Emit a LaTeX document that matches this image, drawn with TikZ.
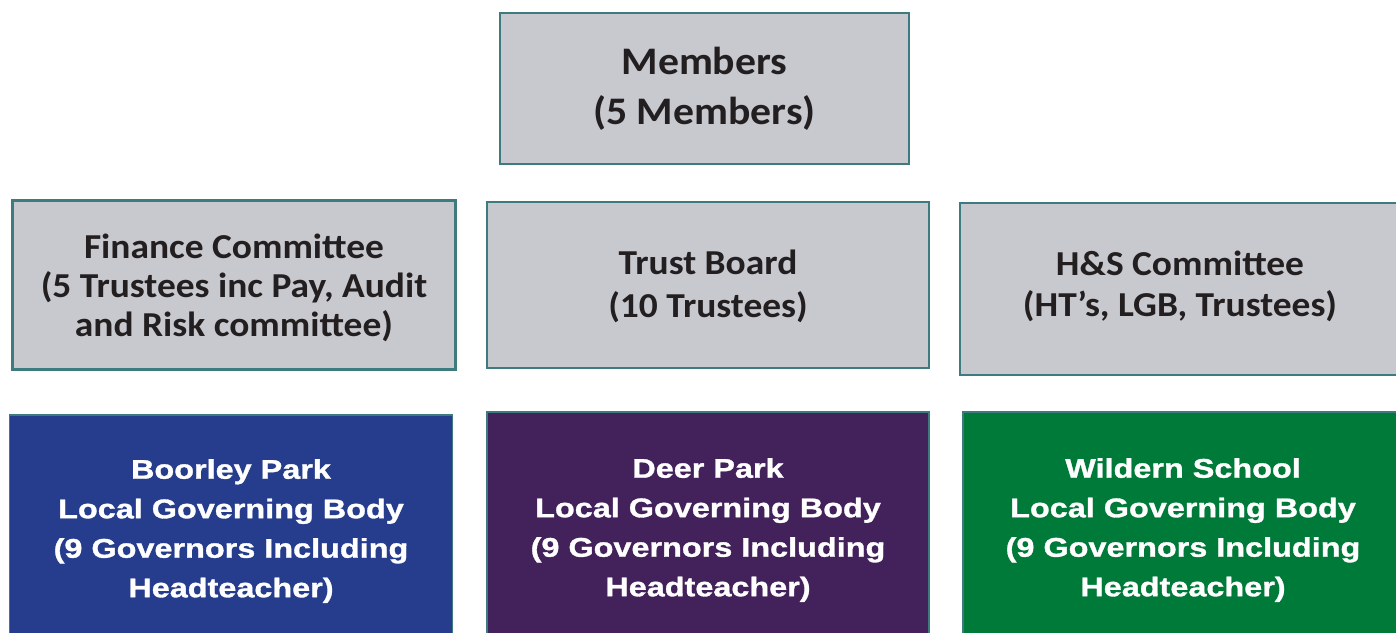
\documentclass[tikz,border=0pt]{standalone}
\usepackage{fontspec}
\setmainfont{Carlito}[FakeStretch=1.07]
\newfontfamily\arialfont{Liberation Sans}[FakeStretch=1.2, BoldFeatures={FakeBold=1.2}]
\definecolor{boxgray}{HTML}{C8C9CE}
\definecolor{edgeteal}{HTML}{3E7B7E}
\definecolor{lgbblue}{HTML}{253D8C}
\definecolor{lgbpurple}{HTML}{43215B}
\definecolor{lgbgreen}{HTML}{007A38}
\definecolor{txtdark}{HTML}{231F20}
\tikzset{
  graybox/.style={draw=edgeteal, line width=2.5pt, fill=boxgray, inner sep=0pt},
  graytext/.style={text=txtdark, align=center, inner sep=0pt,
    font=\bfseries\fontsize{35}{39}\selectfont},
  lgbbox/.style={draw=edgeteal, line width=1.5pt, text=white, align=center,
    inner sep=0pt, font=\arialfont\bfseries\fontsize{27}{39.5}\selectfont}
}
\begin{document}
\begin{tikzpicture}[x=1pt,y=-1pt]
\useasboundingbox (0,0) rectangle (1396,632);
\clip (0,0) rectangle (1396,632);
\fill[white] (0,0) rectangle (1396,632);
% top row
\node[graybox, minimum width=409pt, minimum height=151pt] (members) at (704.5,88.5) {};
\node[graytext, font=\bfseries\fontsize{39}{50}\selectfont] (members-t) at (704.5,89) {Members\\(5 Members)};
% middle row
\node[graybox, minimum width=443pt, minimum height=169pt] (finance) at (234,285) {};
\node[graytext] (finance-t) at (234,287.5) {Finance Committee\\(5 Trustees inc Pay, Audit\\and Risk committee)};
\node[graybox, minimum width=442pt, minimum height=166pt] (trust) at (708,285) {};
\node[graytext, font=\bfseries\fontsize{35}{43}\selectfont] (trust-t) at (708,286.7) {Trust Board\\(10 Trustees)};
\node[graybox, minimum width=440pt, minimum height=172pt] (hs) at (1180,289) {};
\node[graytext, font=\bfseries\fontsize{35}{41}\selectfont] (hs-t) at (1180,286) {H\&S Committee\\(HT’s, LGB, Trustees)};
% bottom row
\node[lgbbox, fill=lgbblue, minimum width=443pt, minimum height=232pt] (boorley) at (231,531) {Boorley Park\\Local Governing Body\\(9 Governors Including\\Headteacher)};
\node[lgbbox, fill=lgbpurple, minimum width=442pt, minimum height=236pt] (deer) at (708,530) {Deer Park\\Local Governing Body\\(9 Governors Including\\Headteacher)};
\node[lgbbox, fill=lgbgreen, minimum width=440pt, minimum height=236pt] (wildern) at (1183,530) {Wildern School\\Local Governing Body\\(9 Governors Including\\Headteacher)};
\end{tikzpicture}
\end{document}
